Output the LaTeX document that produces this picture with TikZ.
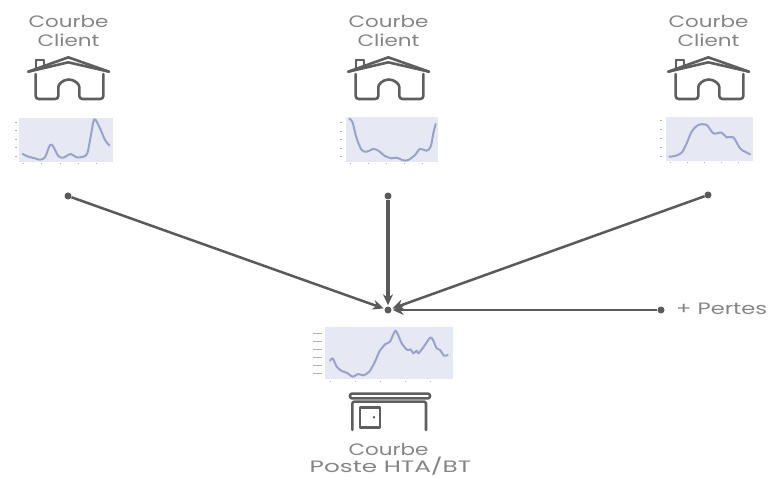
\documentclass[tikz,border=0pt]{standalone}
\usepackage{fontspec}
\setmainfont[FakeStretch=1.3]{Poppins}
\newfontfamily\widefont[FakeStretch=1.5]{Poppins}
\newfontfamily\midfont[FakeStretch=1.37]{Poppins}
\usetikzlibrary{arrows.meta}
\definecolor{lbl}{HTML}{858585}
\definecolor{icon}{HTML}{5E5E5E}
\definecolor{arrowc}{HTML}{5A5A5A}
\definecolor{plotbg}{HTML}{E6E8F3}
\definecolor{curve}{HTML}{97A3C8}
\tikzset{
  x=1pt,y=-1pt,
  lbl/.style={text=lbl,font=\fontsize{16.5}{18.5}\selectfont,align=center,inner sep=0pt},
  plotbox/.style={fill=plotbg,draw=none,anchor=north west,inner sep=0pt},
  curveline/.style={curve,line width=2pt,line join=round,line cap=round},
  tick/.style={gray!60,line width=.5pt},
  dotnode/.style={circle,fill=arrowc,minimum size=7pt,inner sep=0pt},
  link/.style={arrowc,line width=2.5pt,-{Stealth[length=11pt,width=10pt]},shorten >=1pt},
  iconline/.style={icon,line width=2.6pt,line join=round,line cap=round},
  house/.pic={
    \begin{scope}[scale=1/3]
      \draw[iconline] (85,215) -- (205,172) -- (327,215);
      \draw[iconline] (85,215) -- (205,187) -- (327,215);
      \draw[iconline,line width=2pt] (107,203) -- (107,181) -- (133,181) -- (133,193);
      \draw[iconline,rounded corners=3pt] (107,222) -- (107,297) -- (175,297) -- (175,270)
        arc[start angle=180,end angle=360,radius=31.5] -- (238,297) -- (310,297) -- (310,222);
    \end{scope}
  },
  substation/.pic={
    \begin{scope}[scale=1/3]
      \draw[iconline,rounded corners=2pt] (180,311) rectangle (420,325);
      \draw[iconline,rounded corners=2pt] (187,420) -- (187,335) -- (408,335) -- (408,420);
      \draw[iconline] (210,353) rectangle (270,412);
      \fill[icon] (252,382) circle[radius=4];
    \end{scope}
  },
}
\begin{document}
\begin{tikzpicture}
\useasboundingbox (0,0) rectangle (769,478);
% labels
\node[lbl] (t1) at (68.5,31) {Courbe\\Client};
\node[lbl] (t2) at (388.5,31) {Courbe\\Client};
\node[lbl] (t3) at (708.5,31) {Courbe\\Client};
\node[lbl,anchor=base] (t4) at (388.5,455) {Courbe};
\node[lbl,anchor=base] (t6) at (390.5,472.5) {\widefont Poste HTA/BT};
\node[lbl,anchor=west] (t5) at (676,309) {\midfont + Pertes};
% icons
\pic at (0,0) {house};
\pic at (320,0) {house};
\pic at (640,0) {house};
\pic at (290,290) {substation};
% chart 1
\node[plotbox,minimum width=94pt,minimum height=44pt] (c1) at (19,118) {};
\begin{scope}[scale=1/3]
\draw[curveline] plot[smooth,tension=.5] coordinates {(68,462)(85,470)(105,475)(120,479)(135,472)(150,435)(160,440)(175,468)(190,473)(212,462)(230,472)(250,470)(262,460)(272,410)(283,358)(300,385)(315,420)(328,436)};
\end{scope}
% chart 2
\node[plotbox,minimum width=92pt,minimum height=45pt] (c2) at (346,117) {};
\begin{scope}[shift={(320,100)},scale=1/3]
\draw[curveline] plot[smooth,tension=.5] coordinates {(88,57)(97,65)(110,115)(125,150)(140,155)(160,147)(175,152)(195,168)(215,175)(230,173)(250,181)(265,180)(285,165)(300,147)(320,152)(332,140)(340,100)(347,72)};
\end{scope}
% chart 3
\node[plotbox,minimum width=87pt,minimum height=44pt] (c3) at (666,117) {};
\begin{scope}[shift={(640,100)},scale=1/3]
\draw[curveline] plot[smooth,tension=.5] coordinates {(88,170)(105,168)(125,158)(140,130)(155,95)(175,75)(200,75)(220,100)(245,98)(260,112)(280,112)(300,145)(315,155)(330,163)};
\end{scope}
% chart 4
\node[plotbox,minimum width=128pt,minimum height=52pt] (c4) at (325,327) {};
\begin{scope}[shift={(290,290)},scale=1/3]
\draw[curveline] plot[smooth,tension=.4] coordinates {(120,212)(128,205)(140,230)(155,243)(170,248)(188,260)(205,252)(220,256)(238,245)(255,215)(268,185)(285,163)(300,155)(317,122)(335,160)(352,180)(362,178)(370,190)(380,182)(385,190)(400,172)(420,143)(428,148)(440,175)(450,180)(462,197)(473,195)};
\end{scope}
% axis ticks
\foreach \x in {23,41,60,78,96} \draw[tick] (\x,163) -- +(0,1.5);
\foreach \y in {122,130,139,147,156} \draw[tick] (15,\y) -- +(2,0);
\foreach \x in {350,368,386,404,422} \draw[tick] (\x,163) -- +(0,1.5);
\foreach \y in {122,131,139,148,156} \draw[tick] (340,\y) -- +(2,0);
\foreach \x in {670,687,704,721,738} \draw[tick] (\x,162) -- +(0,1.5);
\foreach \y in {120,129,138,147,156} \draw[tick] (660,\y) -- +(2,0);
\foreach \x in {330,355,380,405,430} \draw[tick] (\x,381) -- +(0,1.5);
\foreach \y in {334,342,350,358,366,374} \draw[tick,line width=1pt] (313,\y) -- +(9,0);
% connectors
\node[dotnode] (hub) at (388,310) {};
\node[dotnode] (a) at (68,196) {};
\node[dotnode] (b) at (388,196) {};
\node[dotnode] (d) at (708,195) {};
\node[dotnode] (e) at (661,310) {};
\draw[link] (a) -- (hub);
\draw[link,line width=3.2pt] (b) -- (hub);
\draw[link] (d) -- (hub);
\draw[link] (e) -- (hub);
\end{tikzpicture}
\end{document}
